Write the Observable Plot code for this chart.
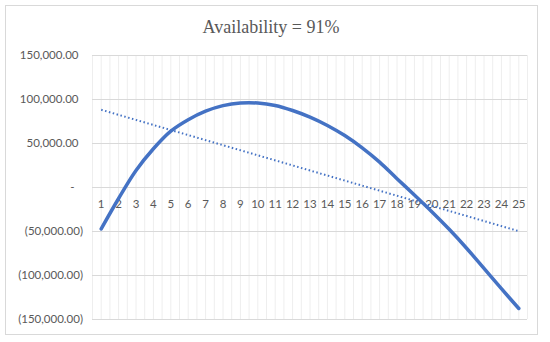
<!DOCTYPE html>
<html>
<head>
<meta charset="utf-8">
<script src="https://cdn.jsdelivr.net/npm/d3@7"></script>
<script src="https://cdn.jsdelivr.net/npm/@observablehq/plot@0.6"></script>
<style>
  html, body { margin: 0; padding: 0; background: #fff; }
  #wrap { position: relative; width: 550px; height: 342px; overflow: hidden; }
  #frame { position: absolute; left: 5px; top: 5px; width: 533px; height: 330px; box-sizing: border-box; border: 1px solid #d9d9d9; }
  #title { position: relative; height: 44px; width: 542px; text-align: center; font-family: "Liberation Serif", "Times New Roman", serif; font-size: 18px; line-height: 22px; padding-top: 16px; box-sizing: border-box; color: #595959; }
  #chart { position: relative; }
</style>
</head>
<body>
<div id="wrap">
  <div id="frame"></div>
  <div id="title">Availability = 91%</div>
  <div id="chart"></div>
</div>
<script>
const categories = [1, 2, 3, 4, 5, 6, 7, 8, 9, 10, 11, 12, 13, 14, 15, 16, 17, 18, 19, 20, 21, 22, 23, 24, 25];
const availability = [-47000, -12500, 19300, 44000, 64000, 77000, 86700, 93000, 96000, 96000, 93200, 87500, 80000, 70500, 59000, 45000, 28800, 10000, -8500, -27500, -47500, -69000, -92000, -115000, -137500];
const trendCategories = [1, 25];
const trendValues = [88300, -49600];
const yTicks = [-150000, -100000, -50000, 0, 50000, 100000, 150000];

const blue = "#4472C4";
const grey = "#595959";
const num = d3.format(",.2f");
const gridX = categories.flatMap(c => [c - 0.5, c]).concat([categories[categories.length - 1] + 0.5]);

const series = categories.map((c, i) => ({c, v: availability[i]}));
const trend = trendCategories.map((c, i) => ({c, v: trendValues[i]}));

const font = "Lato, 'Open Sans', sans-serif";

const chart = Plot.plot({
  width: 550,
  height: 298,
  marginTop: 11,
  marginBottom: 23,
  marginLeft: 92,
  marginRight: 23,
  style: {fontFamily: font, fontSize: "11.5px", color: grey, background: "transparent", overflow: "visible"},
  x: {domain: [0.5, 25.5], axis: null},
  y: {domain: [-150000, 150000], axis: null},
  marks: [
    Plot.ruleX(gridX, {x: d => d, stroke: "#eeeeee", strokeWidth: 1}),
    Plot.ruleY(yTicks, {y: d => d, stroke: "#d9d9d9", strokeWidth: 1}),
    Plot.axisY(yTicks.filter(d => d > 0), {label: null, tickSize: 0, tickPadding: 14, tickFormat: d => num(d), fill: grey, fontSize: 11.5}),
    Plot.axisY(yTicks.filter(d => d < 0), {label: null, tickSize: 0, tickPadding: 9.5, tickFormat: d => "(" + num(-d) + ")", fill: grey, fontSize: 11.5}),
    Plot.axisY(yTicks.filter(d => d === 0), {label: null, tickSize: 0, tickPadding: 18, tickFormat: () => "-", fill: grey, fontSize: 11.5}),
    Plot.text(categories, {x: d => d, y: () => 0, text: d => String(d), dy: 17, fill: grey, fontSize: 11.5}),
    Plot.line(trend, {x: "c", y: "v", stroke: blue, strokeWidth: 2, strokeDasharray: "1.5 2.5", strokeLinecap: "butt"}),
    Plot.line(series, {x: "c", y: "v", stroke: blue, strokeWidth: 3.5, curve: "catmull-rom"})
  ]
});
document.getElementById("chart").appendChild(chart);
</script>
</body>
</html>
